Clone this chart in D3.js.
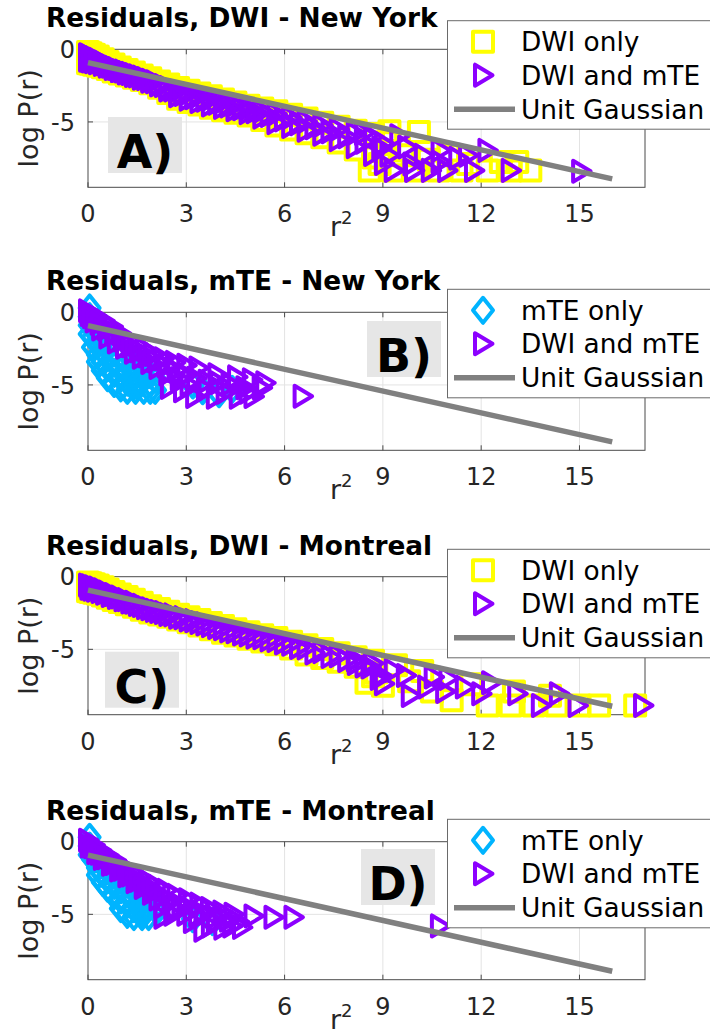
<!DOCTYPE html>
<html><head><meta charset="utf-8">
<script src="https://cdn.jsdelivr.net/npm/d3@7"></script>
<style>body{margin:0;background:#fff}svg{display:block}</style>
</head><body>
<svg id="c" width="710" height="1034"></svg>
<script>
// ---------- ticks / reference line ----------
const xTicks = [0, 3, 6, 9, 12, 15];
const yTicks = [0, -5];
const gaussR2 = [0, 16];
const gaussLogP = [-0.92, -8.92];

const titles = ["Residuals, DWI - New York", "Residuals, mTE - New York",
                "Residuals, DWI - Montreal", "Residuals, mTE - Montreal"];
const letters = ["A)", "B)", "C)", "D)"];
const legendDwi = ["DWI only", "DWI and mTE", "Unit Gaussian"];
const legendMte = ["mTE only", "DWI and mTE", "Unit Gaussian"];

// ---------- DWI panels: r^2 bins and log P(r) read along the band ----------
const dwiGrid    = [0,0.08,0.18,0.3,0.45,0.6,0.78,0.97,1.18,1.4,1.64,1.9,2.17,2.45,2.75,3.07,3.4,3.75,4.12,4.5,4.9,5.32,5.75,6.2,6.67,7.15,7.65,8.17,8.7];
const dwiGridMid = [0.04,0.13,0.24,0.38,0.52,0.69,0.88,1.08,1.29,1.52,1.77,2.04,2.31,2.6,2.91,3.24,3.58,3.94,4.31,4.7,5.11,5.54,5.98,6.44,6.91,7.4,7.91,8.44,8.95];

// New York, DWI only (yellow squares)
const nyDwiOnlyUpper = [-0.18,-0.27,-0.38,-0.5,-0.68,-0.87,-1.05,-1.26,-1.43,-1.6,-1.8,-2.0,-2.21,-2.43,-2.67,-2.86,-3.04,-3.24,-3.45,-3.66,-3.88,-4.07,-4.26,-4.5,-4.77,-5.05,-5.33,-5.6,-5.83];
const nyDwiOnlyLower = [-0.96,-1.0,-1.06,-1.13,-1.24,-1.36,-1.53,-1.66,-1.8,-1.95,-2.12,-2.33,-2.65,-3.0,-3.4,-3.63,-3.8,-4.03,-4.2,-4.37,-4.56,-4.87,-5.25,-5.52,-5.78,-6.05,-6.42,-6.9,-7.45];
const nyDwiOnlyTail = [[9.2,-5.65],[10.1,-5.7],[8.6,-8.34],[9.3,-8.34],[10.0,-8.34],[10.7,-8.34],[11.4,-8.34],[12.2,-8.34],
  [12.9,-8.34],[13.5,-8.34],[9.6,-7.3],[10.4,-7.6],[11.0,-7.3],[12.6,-7.76],[13.1,-7.76],[9.0,-7.0],[9.1,-6.4],[11.6,-7.9],[8.9,-7.9]];
// New York, DWI and mTE (purple triangles)
const nyDwiBothUpper = [-0.38,-0.47,-0.58,-0.7,-0.88,-1.07,-1.25,-1.46,-1.63,-1.8,-2.0,-2.2,-2.41,-2.63,-2.87,-3.06,-3.24,-3.44,-3.65,-3.86,-4.08,-4.27,-4.46,-4.7,-4.97,-5.25,-5.53,-5.8,-6.03];
const nyDwiBothMid   = [-0.6,-0.66,-0.75,-0.86,-1.0,-1.16,-1.33,-1.5,-1.66,-1.83,-2.02,-2.24,-2.5,-2.8,-3.12,-3.33,-3.51,-3.72,-3.91,-4.1,-4.3,-4.56,-4.86,-5.12,-5.4,-5.68,-6.02,-6.4,-6.8];
const nyDwiBothLower = [-0.76,-0.8,-0.86,-0.93,-1.04,-1.16,-1.33,-1.46,-1.6,-1.75,-1.92,-2.13,-2.45,-2.8,-3.2,-3.43,-3.6,-3.83,-4.0,-4.17,-4.36,-4.67,-5.05,-5.32,-5.58,-5.85,-6.22,-6.7,-7.25];
const nyDwiBothTail = [[9.03,-6.48],[9.74,-6.73],[10.25,-7.3],[10.76,-6.96],[9.03,-7.87],[9.33,-8.34],[9.95,-8.34],[10.46,-8.34],
  [10.96,-8.34],[11.78,-8.34],[12.19,-6.96],[12.9,-8.34],[15.05,-8.4],[10.76,-7.76],[8.42,-5.79],[9.5,-5.95],
  [11.3,-7.5],[9.2,-7.3],[9.9,-7.9],[11.6,-7.3]];

// Montreal, DWI only
const mtlDwiOnlyUpper = [-0.4,-0.45,-0.52,-0.6,-0.73,-0.88,-1.05,-1.22,-1.4,-1.58,-1.8,-2.03,-2.22,-2.42,-2.62,-2.8,-2.98,-3.19,-3.4,-3.61,-3.83,-4.03,-4.22,-4.47,-4.72,-4.98,-5.27,-5.54,-5.78];
const mtlDwiOnlyLower = [-1.0,-1.05,-1.11,-1.18,-1.3,-1.45,-1.6,-1.75,-1.9,-2.07,-2.28,-2.46,-2.6,-2.75,-2.94,-3.14,-3.36,-3.62,-3.85,-4.05,-4.27,-4.46,-4.65,-4.95,-5.35,-5.6,-5.85,-6.2,-6.85];
const mtlDwiOnlyTail = [[12.2,-8.87],[12.9,-8.87],[13.6,-8.87],[14.3,-8.87],[15.0,-8.87],[15.6,-8.87],[16.7,-8.87],[11.1,-8.5],
  [14.1,-8.2],[9.0,-7.5],[8.5,-7.3],[10.5,-7.9],[11.7,-7.4],[8.8,-6.6],[9.8,-7.2],[13.0,-7.9],[9.4,-6.1],[10.2,-6.5]];
// Montreal, DWI and mTE
const mtlDwiBothUpper = [-0.58,-0.63,-0.7,-0.78,-0.91,-1.06,-1.23,-1.4,-1.58,-1.76,-1.98,-2.21,-2.4,-2.6,-2.8,-2.98,-3.16,-3.37,-3.58,-3.79,-4.01,-4.21,-4.4,-4.65,-4.9,-5.16,-5.45,-5.72,-5.96];
const mtlDwiBothLower = [-0.8,-0.86,-0.93,-1.02,-1.14,-1.29,-1.44,-1.59,-1.75,-1.92,-2.13,-2.32,-2.47,-2.63,-2.82,-3.03,-3.25,-3.5,-3.73,-3.94,-4.16,-4.35,-4.56,-4.88,-5.25,-5.5,-5.77,-6.15,-6.8];
const mtlDwiBothTail = [[8.2,-5.98],[8.62,-6.22],[9.33,-6.45],[9.03,-7.37],[10.35,-7.6],[9.85,-8.18],[10.55,-6.91],[11.5,-7.6],
  [12.0,-8.06],[13.1,-8.06],[14.37,-8.06],[13.82,-8.87],[14.94,-8.87],[16.94,-8.87],[11.0,-7.0],[9.7,-6.8],
  [12.3,-7.3],[10.9,-7.9],[8.9,-7.0]];

// ---------- mTE panels: [r^2, log P(r)] ----------
const nyMteOnly = [
 [0.05,0.3],[0.05,-0.3],[0.05,-0.9],[0.05,-1.5],[0.15,-1.0],[0.15,-1.7],[0.15,-2.4],
 [0.3,-1.5],[0.3,-2.2],[0.3,-2.9],[0.3,-3.4],[0.45,-2.0],[0.45,-2.7],[0.45,-3.4],[0.45,-4.0],
 [0.6,-2.4],[0.6,-3.1],[0.6,-3.8],[0.6,-4.5],[0.8,-2.8],[0.8,-3.5],[0.8,-4.2],[0.8,-4.9],
 [1.0,-3.1],[1.0,-3.8],[1.0,-4.5],[1.0,-5.2],[1.2,-3.4],[1.2,-4.1],[1.2,-4.8],[1.2,-5.37],
 [1.45,-3.7],[1.45,-4.4],[1.45,-5.0],[1.45,-5.37],[1.7,-4.0],[1.7,-4.6],[1.7,-5.37],
 [1.9,-4.3],[1.9,-4.9],[1.9,-5.37],[2.05,-4.6],[2.05,-5.37],
 [3.2,-5.0],[3.5,-5.4],[4.0,-5.6],[4.4,-5.3]
];
const nyMteBoth = [
 [0.0,0.1],[0.25,-0.25],[0.5,-0.6],[0.75,-1.0],[1.0,-1.45],[1.25,-1.85],[1.5,-2.2],[1.75,-2.55],[2.0,-2.9],
 [2.3,-3.2],[2.65,-3.45],[3.0,-3.65],[3.37,-3.84],[3.95,-4.3],[4.55,-4.45],[5.0,-4.65],[5.41,-4.86],
 [0.05,-0.15],[0.2,-0.6],[0.4,-1.15],[0.62,-1.7],[0.88,-2.05],[1.13,-2.4],[1.4,-2.75],[1.64,-3.1],[1.9,-3.45],
 [2.15,-3.8],[2.45,-4.25],[2.5,-5.17],[3.27,-5.8],[3.9,-5.85],[4.6,-5.85],[5.05,-5.8],[6.55,-5.78],
 [0.12,-0.3],[0.35,-0.75],[0.58,-1.15],[0.8,-1.5],[1.05,-1.9],[1.3,-2.3],[1.55,-2.65],[1.82,-3.0],[2.1,-3.35],
 [2.4,-3.7],[2.7,-4.0],[3.0,-4.3],[3.3,-4.55],[3.65,-4.75],[4.0,-4.85],[4.35,-4.95],[4.8,-5.2],
 [2.8,-4.6],[3.1,-5.0],[3.6,-5.3],[4.2,-5.5],[4.9,-5.5],[5.3,-5.2],[2.9,-5.4]
];
const mtlMteOnly = [
 [0.05,0.3],[0.05,-0.3],[0.05,-0.9],[0.15,-0.6],[0.15,-1.2],[0.3,-1.2],[0.3,-1.8],[0.3,-2.3],
 [0.45,-1.6],[0.45,-2.2],[0.45,-2.8],[0.6,-2.0],[0.6,-2.6],[0.6,-3.2],[0.8,-2.3],[0.8,-3.0],[0.8,-3.7],
 [1.0,-2.6],[1.0,-3.3],[1.0,-4.0],[1.0,-4.6],[1.2,-2.9],[1.2,-3.6],[1.2,-4.3],[1.2,-5.0],
 [1.4,-3.2],[1.4,-3.9],[1.4,-4.6],[1.4,-5.15],[1.65,-3.6],[1.65,-4.2],[1.65,-4.8],[1.65,-5.15],
 [1.85,-3.9],[1.85,-4.5],[1.85,-5.15],[2.1,-4.3],[2.1,-4.8],[3.2,-5.3],[3.8,-5.5]
];
const mtlMteBoth = [
 [0.0,0.1],[0.2,-0.25],[0.4,-0.6],[0.62,-0.95],[0.85,-1.3],[1.1,-1.7],[1.35,-2.05],[1.6,-2.4],[1.85,-2.75],
 [2.1,-3.05],[2.4,-3.35],[2.7,-3.7],[3.05,-4.0],[3.4,-4.3],[3.72,-4.6],[4.1,-4.85],[4.44,-5.0],[5.05,-5.12],
 [5.66,-5.2],[6.27,-5.2],
 [0.05,-0.3],[0.25,-0.75],[0.45,-1.15],[0.7,-1.55],[0.95,-1.95],[1.2,-2.35],[1.45,-2.75],[1.7,-3.15],[1.95,-3.55],
 [2.15,-3.95],[2.3,-4.5],[2.3,-5.2],[2.7,-4.6],[3.0,-5.0],[3.36,-5.05],[3.52,-6.1],[4.13,-5.95],[4.7,-5.9],
 [3.9,-5.5],[10.74,-5.8],
 [0.15,-0.35],[0.35,-0.8],[0.55,-1.1],[0.8,-1.5],[1.05,-1.9],[1.3,-2.3],[1.55,-2.65],[1.8,-3.0],[2.05,-3.4],
 [2.3,-3.8],[2.55,-4.1],[2.85,-4.4],[3.2,-4.7],[3.55,-5.0],[3.9,-5.2],[4.3,-5.4],[4.6,-5.5],[3.2,-5.5],
 [3.75,-5.8],[4.4,-5.8],[2.6,-5.0]
];

// build point tables from the arrays above
const onGrid = (grid, vals) => vals.map((v, i) => [grid[i], v]);
const nyDwiOnly = [...onGrid(dwiGrid, nyDwiOnlyUpper), ...onGrid(dwiGrid, nyDwiOnlyLower), ...nyDwiOnlyTail];
const nyDwiBoth = [...onGrid(dwiGrid, nyDwiBothUpper), ...onGrid(dwiGridMid, nyDwiBothMid), ...onGrid(dwiGrid, nyDwiBothLower), ...nyDwiBothTail];
const mtlDwiOnly = [...onGrid(dwiGrid, mtlDwiOnlyUpper), ...onGrid(dwiGrid, mtlDwiOnlyLower), ...mtlDwiOnlyTail];
const mtlDwiBoth = [...onGrid(dwiGrid, mtlDwiBothUpper), ...onGrid(dwiGridMid, mtlDwiBothLower), ...mtlDwiBothTail];

// ---------- layout ----------
const panels = [
  {top: 49.3, title: titles[0], letter: letters[0], only: nyDwiOnly, both: nyDwiBoth, kind: "dwi", legend: legendDwi, box: {x: 108, dy: 67.7}, legTop: -28.6},
  {top: 312.3, title: titles[1], letter: letters[1], only: nyMteOnly, both: nyMteBoth, kind: "mte", legend: legendMte, box: {x: 367, dy: 8.7}, legTop: -23},
  {top: 576.7, title: titles[2], letter: letters[2], only: mtlDwiOnly, both: mtlDwiBoth, kind: "dwi", legend: legendDwi, box: {x: 105, dy: 75}, legTop: -27.4},
  {top: 841.7, title: titles[3], letter: letters[3], only: mtlMteOnly, both: mtlMteBoth, kind: "mte", legend: legendMte, box: {x: 361, dy: 7.3}, legTop: -22.4}
];

const X0 = 88, X1 = 645, PH = 138;
const FONT = "DejaVu Sans, Verdana, sans-serif";
const col = {yellow: "#ffff00", purple: "#8c00ff", blue: "#00b4ff", gray: "#808080", axis: "#4a4a4a", text: "#262626", grid: "#e3e3e3"};
const SW = 4;

const svg = d3.select("#c");
const x = d3.scaleLinear().domain([0, 17]).range([X0, X1]);

const squarePath = "M-10,-10L10,-10L10,10L-10,10Z";
const triPath = "M-8,-10.5L-8,10.5L9.5,0Z";
const diaPath = "M0,-12.5L10,0L0,12.5L-10,0Z";

function markers(g, data, path, color, xs, ys) {
  g.selectAll(null).data(data).enter().append("path")
    .attr("d", path)
    .attr("transform", d => `translate(${xs(d[0])},${ys(d[1])})`)
    .attr("fill", "none").attr("stroke", color).attr("stroke-width", SW)
    .attr("stroke-linejoin", "round");
}

panels.forEach(p => {
  const y = d3.scaleLinear().domain([-9.5, 0]).range([p.top + PH, p.top]);
  const g = svg.append("g");

  g.selectAll(null).data(xTicks.filter(t => t > 0)).enter().append("line")
    .attr("x1", d => x(d)).attr("x2", d => x(d)).attr("y1", p.top).attr("y2", p.top + PH)
    .attr("stroke", col.grid).attr("stroke-width", 1);
  g.selectAll(null).data(yTicks.filter(t => t < 0)).enter().append("line")
    .attr("y1", d => y(d)).attr("y2", d => y(d)).attr("x1", X0).attr("x2", X1)
    .attr("stroke", col.grid).attr("stroke-width", 1);

  g.append("rect").attr("x", X0).attr("y", p.top).attr("width", X1 - X0).attr("height", PH)
    .attr("fill", "none").attr("stroke", col.axis).attr("stroke-width", 1);
  xTicks.forEach(t => {
    g.append("line").attr("x1", x(t)).attr("x2", x(t)).attr("y1", p.top + PH).attr("y2", p.top + PH - 5).attr("stroke", col.axis);
    g.append("line").attr("x1", x(t)).attr("x2", x(t)).attr("y1", p.top).attr("y2", p.top + 5).attr("stroke", col.axis);
  });
  yTicks.forEach(t => {
    g.append("line").attr("x1", X0).attr("x2", X0 + 5).attr("y1", y(t)).attr("y2", y(t)).attr("stroke", col.axis);
    g.append("line").attr("x1", X1).attr("x2", X1 - 5).attr("y1", y(t)).attr("y2", y(t)).attr("stroke", col.axis);
  });

  g.selectAll(null).data(xTicks).enter().append("text")
    .attr("x", d => x(d)).attr("y", p.top + PH + 35).attr("text-anchor", "middle")
    .attr("font-family", FONT).attr("font-size", 24).attr("fill", col.text).text(d => d);
  g.selectAll(null).data(yTicks).enter().append("text")
    .attr("x", X0 - 13).attr("y", d => y(d)).attr("dy", "0.36em").attr("text-anchor", "end")
    .attr("font-family", FONT).attr("font-size", 24).attr("fill", col.text).text(d => d === 0 ? "0" : "-" + Math.abs(d));

  const xl = g.append("text").attr("x", 330).attr("y", p.top + PH + 49)
    .attr("font-family", FONT).attr("font-size", 27).attr("fill", col.text);
  xl.append("tspan").text("r");
  xl.append("tspan").attr("font-size", 18).attr("dy", -12).text("2");
  g.append("text").attr("transform", `translate(38,${p.top + PH / 2}) rotate(-90)`)
    .attr("text-anchor", "middle").attr("font-family", FONT).attr("font-size", 27).attr("fill", col.text)
    .text("log P(r)");

  g.append("text").attr("x", 46).attr("y", p.top - 22).attr("font-family", FONT).attr("font-weight", "bold")
    .attr("font-size", 26.4).attr("fill", "#000").text(p.title);

  if (p.kind === "dwi") markers(g, p.only, squarePath, col.yellow, x, y);
  else markers(g, p.only, diaPath, col.blue, x, y);
  markers(g, p.both, triPath, col.purple, x, y);

  const line = d3.line().x(d => x(d[0])).y(d => y(d[1]));
  g.append("path").datum(gaussR2.map((r, i) => [r, gaussLogP[i]])).attr("d", line)
    .attr("fill", "none").attr("stroke", col.gray).attr("stroke-width", 5.5);

  g.append("rect").attr("x", p.box.x).attr("y", p.top + p.box.dy).attr("width", 74).attr("height", 56).attr("fill", "#e6e6e6");
  g.append("text").attr("x", p.box.x + 37).attr("y", p.top + p.box.dy + 51).attr("text-anchor", "middle")
    .attr("font-family", FONT).attr("font-weight", "bold").attr("font-size", 46).attr("fill", "#000").text(p.letter);

  const ly = p.top + p.legTop;
  const lg = g.append("g");
  lg.append("rect").attr("x", 447.5).attr("y", ly).attr("width", 300).attr("height", 108.5)
    .attr("fill", "#fff").attr("stroke", "#6a6a6a").attr("stroke-width", 1);
  const rows = [21, 54.5, 88.5];
  lg.append("path").attr("d", p.kind === "dwi" ? squarePath : diaPath)
    .attr("transform", `translate(483,${ly + rows[0]})`).attr("fill", "none")
    .attr("stroke", p.kind === "dwi" ? col.yellow : col.blue).attr("stroke-width", SW).attr("stroke-linejoin", "round");
  lg.append("path").attr("d", triPath).attr("transform", `translate(483,${ly + rows[1]})`).attr("fill", "none")
    .attr("stroke", col.purple).attr("stroke-width", SW).attr("stroke-linejoin", "round");
  lg.append("line").attr("x1", 454).attr("x2", 515).attr("y1", ly + rows[2]).attr("y2", ly + rows[2])
    .attr("stroke", col.gray).attr("stroke-width", 5.5);
  lg.selectAll(null).data(p.legend).enter().append("text")
    .attr("x", 521).attr("y", (d, i) => ly + rows[i]).attr("dy", "0.36em")
    .attr("font-family", FONT).attr("font-size", 26.4).attr("fill", "#000").text(d => d);
});
</script>
</body></html>
